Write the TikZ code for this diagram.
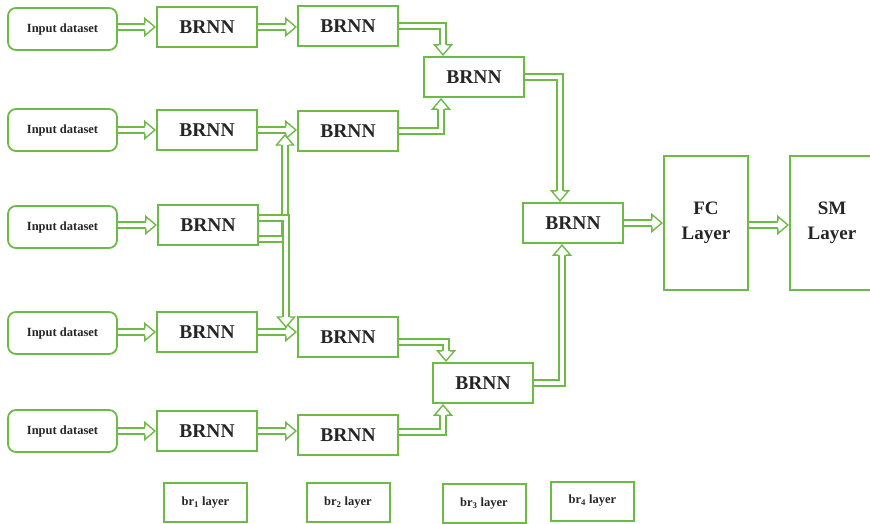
\documentclass[tikz,border=0pt]{standalone}
\usepackage{fontspec}
\setmainfont{Liberation Serif}
\definecolor{lgreen}{RGB}{110,186,70}
\pgfdeclarelayer{links}
\pgfsetlayers{links,main}
\begin{document}
\begin{tikzpicture}[x=1pt,y=-1pt,
  box/.style={draw=lgreen, line width=2.2pt, fill=white, inner sep=0pt, text=black!85},
  inbox/.style={box, rounded corners=8pt, line width=1.8pt, minimum width=109pt, minimum height=42pt, font=\bfseries\fontsize{12.5}{14}\selectfont},
  brnn/.style={box, minimum width=100pt, minimum height=40pt, font=\bfseries\fontsize{19.5}{22}\selectfont},
  tall/.style={box, minimum width=84pt, minimum height=134pt, align=center, font=\bfseries\fontsize{19}{25}\selectfont},
  tag/.style={box, line width=2pt, minimum width=83pt, minimum height=39pt, font=\bfseries\fontsize{12.5}{14}\selectfont},
  % double-line shaft, stopping at the base of the hollow head
  dbl/.style={draw=lgreen, line width=1.4pt, double=white, double distance=4.6pt, shorten >=10.6pt},
  tip/.style={pos=1, sloped, allow upside down},
  % hollow head pointing along +x, open where the shaft enters
  head/.pic={
    \fill[white, shorten >=0pt, shorten <=0pt] (-11,-8.5) -- (-1,0) -- (-11,8.5) -- cycle;
    \draw[lgreen, line width=1.4pt, line join=miter, shorten >=0pt, shorten <=0pt]
      (-11,-3.7) -- (-11,-8.5) -- (-1,0) -- (-11,8.5) -- (-11,3.7);
  }
]
\useasboundingbox (0,0) rectangle (870,524);

% input datasets
\node[inbox] (in1) at (62.5,29)  {Input dataset};
\node[inbox] (in2) at (62.5,130) {Input dataset};
\node[inbox] (in3) at (62.5,227) {Input dataset};
\node[inbox] (in4) at (62.5,333) {Input dataset};
\node[inbox] (in5) at (62.5,431) {Input dataset};

% first BRNN layer
\node[brnn] (b11) at (207,27)  {BRNN};
\node[brnn] (b12) at (207,130) {BRNN};
\node[brnn] (b13) at (208,225) {BRNN};
\node[brnn] (b14) at (207,332) {BRNN};
\node[brnn] (b15) at (207,431) {BRNN};

% second BRNN layer
\node[brnn] (b21) at (348,26)  {BRNN};
\node[brnn] (b22) at (348,131) {BRNN};
\node[brnn] (b24) at (348,337) {BRNN};
\node[brnn] (b25) at (348,435) {BRNN};

% third and fourth BRNN layers
\node[brnn] (b31) at (474,77)  {BRNN};
\node[brnn] (b32) at (483,383) {BRNN};
\node[brnn] (b4)  at (573,223) {BRNN};

% output layers
\node[tall] (fc) at (706,223) {FC\\Layer};
\node[tall] (sm) at (832,223) {SM\\Layer};

% layer tags
\node[tag] (t1) at (205.5,502.5) {br\textsubscript{1} layer};
\node[tag] (t2) at (348,502.5)   {br\textsubscript{2} layer};
\node[tag] (t3) at (484,503.5)   {br\textsubscript{3} layer};
\node[tag] (t4) at (592.5,501)   {br\textsubscript{4} layer};

% junction points on the row 2 and row 4 links
\coordinate (j2) at (285,134);
\coordinate (j4) at (286,328);

\begin{pgfonlayer}{links}
% inputs into the first layer
\foreach \i in {1,...,5}
  \draw[dbl] (in\i.east |- b1\i.east) -- (b1\i.west) pic[tip]{head};

% first layer into second layer
\foreach \i in {1,2,4,5}
  \draw[dbl] (b1\i.east) -- (b2\i.west |- b1\i.east) pic[tip]{head};

% shared BRNN feeding rows 2 and 4
\draw[dbl] ([yshift=-14pt]b13.east) -| (j2) pic[tip]{head};
\draw[dbl] ([yshift=7pt]b13.east) -| (j4) pic[tip]{head};

% second layer into third layer
\draw[dbl] (b21.east) -| ([xshift=-31pt]b31.north) pic[tip]{head};
\draw[dbl] (b22.east) -| ([xshift=-33pt]b31.south) pic[tip]{head};
\draw[dbl] ([yshift=-5pt]b24.east) -| ([xshift=-37pt]b32.north) pic[tip]{head};
\draw[dbl] ([yshift=3pt]b25.east) -| ([xshift=-40pt]b32.south) pic[tip]{head};

% third layer into fourth layer
\draw[dbl] (b31.east) -| ([xshift=-13pt]b4.north) pic[tip]{head};
\draw[dbl] (b32.east) -| ([xshift=-11pt]b4.south) pic[tip]{head};

% to the output layers
\draw[dbl] (b4.east) -- (fc.west) pic[tip]{head};
\draw[dbl] ([yshift=-2pt]fc.east) -- ([yshift=-2pt]sm.west) pic[tip]{head};
\end{pgfonlayer}
\end{tikzpicture}
\end{document}
